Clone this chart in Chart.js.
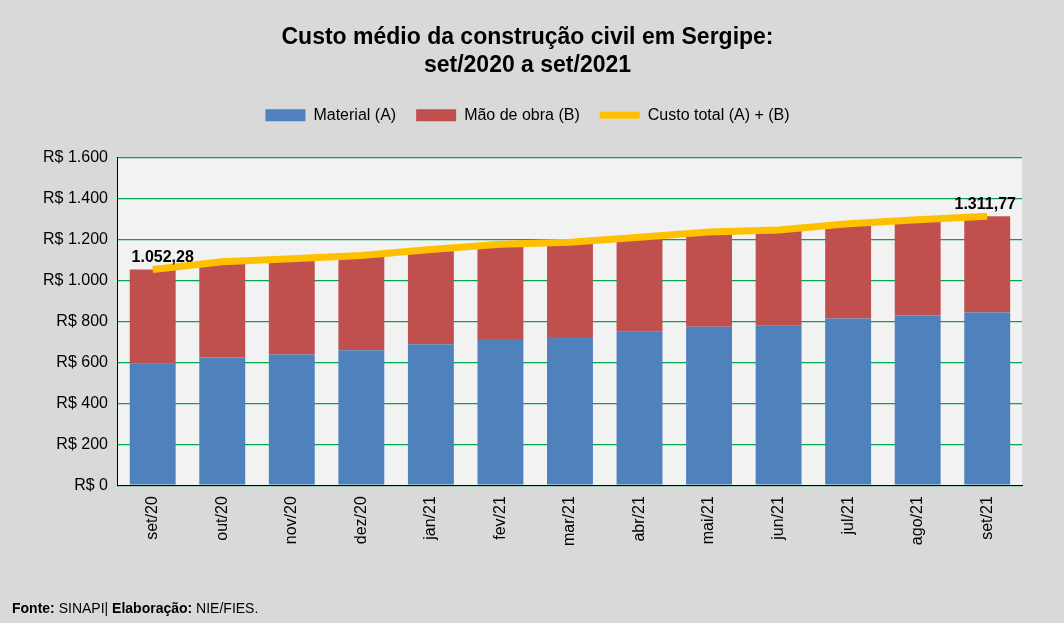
<!DOCTYPE html>
<html><head><meta charset="utf-8">
<script src="https://cdn.jsdelivr.net/npm/chart.js@4"></script>
<style>
html,body{margin:0;padding:0;background:#d9d9d9;}
#wrap{width:1064px;height:623px;position:relative;}
</style></head>
<body><div id="wrap"><canvas id="c" width="1064" height="623"></canvas></div>
<script>
const meses = ['set/20','out/20','nov/20','dez/20','jan/21','fev/21','mar/21','abr/21','mai/21','jun/21','jul/21','ago/21','set/21'];
const material = [593, 623, 638, 658, 688, 713, 723, 748, 773, 778, 813, 828, 843];
const custoTotal = [1052.28, 1090, 1105, 1120, 1150, 1175, 1185, 1210, 1235, 1245, 1275, 1295, 1311.77];
const maoDeObra = custoTotal.map((t, i) => +(t - material[i]).toFixed(2));
const FONT = 'Liberation Sans, Arial, sans-serif';

function fmt(v, dec) {
    return v.toLocaleString('pt-BR', {minimumFractionDigits: dec, maximumFractionDigits: dec});
}

// espaço extra abaixo da legenda
const legendMargin = {
    id: 'legendMargin',
    beforeInit(chart) {
        const fit = chart.legend.fit;
        chart.legend.fit = function() {
            fit.bind(this)();
            this.height += 24;
        };
    }
};

// fundo da área do gráfico, rótulos e fonte
const extras = {
    id: 'extras',
    beforeDraw(chart) {
        const {ctx, chartArea: a} = chart;
        ctx.save();
        ctx.fillStyle = '#f2f2f2';
        ctx.fillRect(a.left, a.top, a.right - a.left, a.bottom - a.top);
        ctx.restore();
    },
    afterDraw(chart) {
        const ctx = chart.ctx;
        const meta = chart.getDatasetMeta(0);
        ctx.save();
        ctx.font = 'bold 16px ' + FONT;
        ctx.fillStyle = '#000';
        ctx.textAlign = 'center';
        [0, custoTotal.length - 1].forEach(i => {
            const p = meta.data[i];
            ctx.fillText(fmt(custoTotal[i], 2), p.x + (i === 0 ? 10 : -2), p.y - 12);
        });
        ctx.textAlign = 'left';
        let x = 12;
        const y = 609;
        const parts = [['Fonte: ', true], ['SINAPI| ', false], ['Elaboração: ', true], ['NIE/FIES.', false]];
        parts.forEach(([t, b]) => {
            ctx.font = (b ? 'bold ' : '') + '14px ' + FONT;
            ctx.fillText(t, x, y);
            x += ctx.measureText(t).width;
        });
        ctx.restore();
    }
};

new Chart(document.getElementById('c'), {
    data: {
        labels: meses,
        datasets: [
            {type: 'line', label: 'Custo total (A) + (B)', data: custoTotal, borderColor: '#ffc000',
             backgroundColor: '#ffc000', borderWidth: 7, pointRadius: 0, order: 0, pointStyle: 'line'},
            {type: 'bar', label: 'Material (A)', data: material, backgroundColor: '#4f81bd',
             stack: 's', categoryPercentage: 1, barPercentage: 0.66, order: 1, pointStyle: 'rect'},
            {type: 'bar', label: 'Mão de obra (B)', data: maoDeObra, backgroundColor: '#c0504d',
             stack: 's', categoryPercentage: 1, barPercentage: 0.66, order: 1, pointStyle: 'rect'}
        ]
    },
    options: {
        responsive: false,
        animation: false,
        layout: {padding: {left: 33, right: 42, top: 8, bottom: 74}},
        scales: {
            x: {
                stacked: true,
                grid: {display: false, drawTicks: true},
                border: {color: '#000'},
                ticks: {color: '#000', font: {size: 16, family: FONT}, minRotation: 90, maxRotation: 90}
            },
            y: {
                stacked: true, min: 0, max: 1600,
                grid: {color: '#00a650', lineWidth: 1.3, drawTicks: false},
                border: {color: '#000'},
                ticks: {stepSize: 200, color: '#000', padding: 10, font: {size: 16, family: FONT},
                        callback: v => 'R$ ' + fmt(v, 0)}
            }
        },
        plugins: {
            title: {display: true, text: ['Custo médio da construção civil em Sergipe:', 'set/2020 a set/2021'],
                    color: '#000', font: {size: 23, weight: 'bold', family: FONT}, padding: {top: 16, bottom: 8}, lineHeight: 1.5},
            legend: {
                labels: {
                    color: '#000', font: {size: 16, family: FONT}, usePointStyle: true, boxHeight: 12, pointStyleWidth: 40,
                    sort: (a, b) => (a.datasetIndex || 3) - (b.datasetIndex || 3),
                    padding: 20
                }
            },
            tooltip: {enabled: false}
        }
    },
    plugins: [legendMargin, extras]
});
</script>
</body></html>
